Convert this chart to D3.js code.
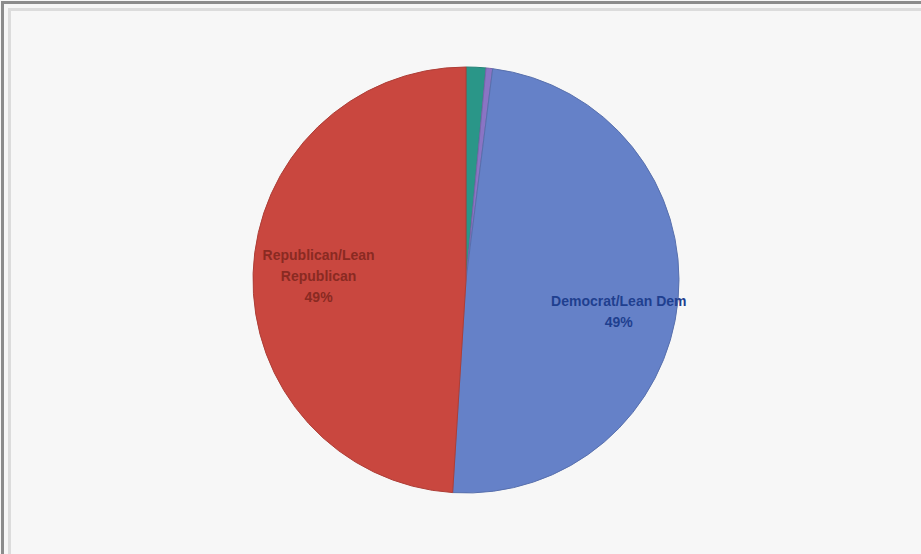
<!DOCTYPE html>
<html>
<head>
<meta charset="utf-8">
<script src="https://cdn.jsdelivr.net/npm/d3@7/dist/d3.min.js"></script>
<style>
  html, body { margin: 0; padding: 0; background: #f7f7f7; }
  svg { display: block; }
</style>
</head>
<body>
<svg id="chart" width="921" height="554"></svg>
<script>
// Party share, clockwise from 12 o'clock
const categories = ["Other", "Independent", "Democrat/Lean Dem", "Republican/Lean Rep"];
const values = [1.5, 0.5, 49, 49];
const labelLines = [null, null, ["Democrat/Lean Dem"], ["Republican/Lean", "Republican"]];
const colors = ["#2a9688", "#8a74c4", "#6581c8", "#c9473f"];
const textColors = [null, null, "#1f3f8f", "#8a2a22"];

const svg = d3.select("#chart");
const W = 921, H = 554;

// frame
svg.append("rect").attr("x", 0).attr("y", 0).attr("width", W).attr("height", H).attr("fill", "#f7f7f7");
svg.append("rect").attr("x", 2.5).attr("y", 2.5).attr("width", W + 10).attr("height", H + 10)
  .attr("fill", "none").attr("stroke", "#8c8c8c").attr("stroke-width", 3);
svg.append("rect").attr("x", 9.5).attr("y", 9.5).attr("width", W + 10).attr("height", H + 10)
  .attr("fill", "none").attr("stroke", "#dcdcdc").attr("stroke-width", 3);

const cx = 466, cy = 280, r = 213;
const data = categories.map((c, i) => ({ name: c, value: values[i], i }));
const total = d3.sum(values);

const pie = d3.pie().value(d => d.value).sort(null);
const arc = d3.arc().innerRadius(0).outerRadius(r);

const g = svg.append("g").attr("transform", `translate(${cx},${cy})`);
const arcs = pie(data);

g.selectAll("path.slice").data(arcs).join("path")
  .attr("class", "slice")
  .attr("d", arc)
  .attr("fill", d => colors[d.data.i])
  .attr("stroke", d => d3.color(colors[d.data.i]).darker(0.4))
  .attr("stroke-width", 1);

// labels on large slices, placed near the slice's outer part
const labelArc = d3.arc().innerRadius(r * 0.73).outerRadius(r * 0.73);
const fmt = d3.format(".0%");
arcs.filter(d => labelLines[d.data.i]).forEach(d => {
  let [x, y] = labelArc.centroid(d);
  // short labels sit a little below the slice midline
  const short = labelLines[d.data.i].length === 1;
  if (short) { y += 16; x -= 2; } else { x += 8; }
  const lines = labelLines[d.data.i].concat([fmt(d.data.value / total)]);
  const lh = 21;
  const t = g.append("text")
    .attr("text-anchor", "middle")
    .attr("font-family", "Liberation Sans, Arial, sans-serif")
    .attr("font-size", 14)
    .attr("font-weight", "bold")
    .attr("fill", textColors[d.data.i]);
  lines.forEach((s, k) => {
    t.append("tspan").attr("x", x).attr("y", y + (k - (lines.length - 1) / 2) * lh + 6).text(s);
  });
});
</script>
</body>
</html>
